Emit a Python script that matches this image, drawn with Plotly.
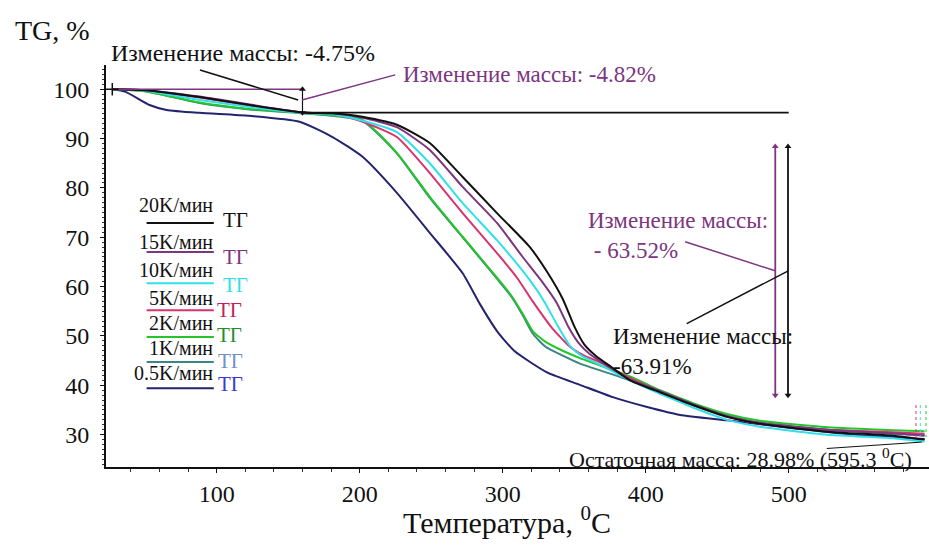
import plotly.graph_objects as go

# Heating-rate series: temperature (°C) and TG (%)
t_20 = [27, 50, 88, 123, 160, 181, 202, 226, 249, 272, 296, 319, 331, 342, 350, 357, 365, 376, 389, 410, 424, 433, 457, 480, 527, 573, 595]
tg_20 = [100, 99.8, 98.4, 96.8, 95.3, 95.1, 94.4, 92.8, 89.1, 82.2, 74.9, 68.0, 63.0, 57.5, 52.0, 48.3, 46.0, 43.7, 41.0, 38.6, 37.0, 36.0, 33.6, 32.2, 30.6, 29.8, 29.0]

t_15 = [27, 50, 88, 123, 160, 181, 202, 226, 249, 272, 296, 314, 327, 338, 346, 353, 361, 373, 389, 410, 424, 433, 457, 480, 527, 573, 595]
tg_15 = [100, 99.8, 98.5, 96.9, 95.3, 95.1, 94.2, 92.3, 87.7, 80.2, 72.9, 66.0, 61.2, 56.6, 51.8, 48.6, 46.3, 44.0, 41.2, 38.8, 37.2, 36.2, 33.8, 32.4, 31.0, 30.3, 29.8]

t_10 = [27, 50, 88, 123, 160, 181, 202, 226, 249, 272, 296, 319, 329, 338, 347, 355, 365, 389, 410, 424, 433, 457, 480, 527, 573, 595]
tg_10 = [100, 99.7, 97.8, 96.4, 95.2, 94.9, 93.6, 91.3, 85.0, 76.9, 69.4, 61.3, 57.0, 52.3, 48.0, 46.0, 44.6, 41.0, 38.3, 36.6, 35.5, 33.0, 31.6, 30.0, 29.3, 28.6]

t_5 = [27, 50, 88, 123, 160, 181, 202, 226, 249, 272, 296, 310, 321, 334, 347, 357, 367, 389, 410, 424, 433, 457, 480, 527, 573, 595]
tg_5 = [100, 99.8, 98.3, 96.7, 95.3, 95.0, 93.4, 90.3, 83.0, 74.9, 66.8, 61.8, 57.0, 51.8, 47.8, 46.0, 44.8, 41.5, 38.8, 37.2, 36.0, 33.6, 32.2, 31.0, 30.5, 30.2]

t_2 = [27, 50, 88, 123, 160, 181, 202, 226, 249, 272, 296, 306, 314, 321, 330, 342, 354, 389, 410, 424, 433, 457, 480, 527, 573, 595]
tg_2 = [100, 99.6, 97.3, 96.0, 95.2, 94.7, 93.8, 87.1, 78.2, 70.1, 61.8, 58.2, 54.5, 51.0, 48.8, 47.0, 45.5, 41.8, 39.0, 37.4, 36.4, 34.2, 32.8, 31.5, 30.9, 30.7]

t_1 = [27, 50, 88, 123, 160, 181, 202, 226, 249, 272, 296, 306, 314, 321, 330, 342, 354, 389, 410, 424, 433, 457, 480, 527, 573, 595]
tg_1 = [100, 99.6, 97.2, 95.9, 95.1, 94.6, 93.6, 87.0, 78.0, 70.0, 61.6, 58.0, 54.2, 50.5, 47.8, 46.0, 44.4, 41.0, 38.4, 36.9, 36.0, 33.8, 32.4, 31.0, 30.2, 29.9]

t_05 = [27, 36, 53, 65, 88, 123, 158, 181, 202, 226, 249, 272, 284, 296, 308, 331, 354, 377, 401, 424, 457, 503, 550, 585, 595]
tg_05 = [100, 99.5, 96.8, 95.8, 95.2, 94.6, 93.4, 90.3, 86.3, 79.0, 70.9, 62.7, 56.5, 51.0, 47.0, 42.6, 40.1, 37.6, 35.6, 34.0, 32.9, 31.3, 29.9, 29.3, 29.1]

rate_labels = ["20K/мин", "15K/мин", "10K/мин", "5K/мин", "2K/мин", "1K/мин", "0.5K/мин"]
rate_colors = ["#111111", "#7d3580", "#2fe0ea", "#d8336e", "#25c42a", "#3c8585", "#24246e"]
tg_label_colors = ["#111111", "#7d3580", "#2fe0ea", "#c81e55", "#1f8f2a", "#6f93c6", "#3a3ad0"]
series_t = [t_20, t_15, t_10, t_5, t_2, t_1, t_05]
series_tg = [tg_20, tg_15, tg_10, tg_5, tg_2, tg_1, tg_05]

# Mass-change annotations
first_step = [4.75, 4.82]
main_step = [63.52, 63.91]
residual_mass = 28.98
residual_temp = 595.3
step_temp = 160
step_end = 500

FONT = "Liberation Serif"
PURPLE = "#7d3580"
INK = "#111111"

fig = go.Figure()

# TG curves
for t, tg, col in reversed(list(zip(series_t, series_tg, rate_colors))):
    fig.add_trace(go.Scatter(x=t, y=tg, mode="lines",
                             line=dict(color=col, width=2, shape="spline", smoothing=0.55),
                             hoverinfo="skip"))

# Reference lines for the first mass-loss step
fig.add_trace(go.Scatter(x=[27, step_temp], y=[100, 100], mode="lines",
                         line=dict(color=PURPLE, width=1.5), hoverinfo="skip"))
fig.add_trace(go.Scatter(x=[step_temp, step_end], y=[100 - first_step[0]] * 2, mode="lines",
                         line=dict(color=INK, width=1.8), hoverinfo="skip"))
fig.add_trace(go.Scatter(x=[step_temp, step_temp], y=[100, 100 - first_step[0]], mode="lines+markers",
                         line=dict(color=INK, width=1.2),
                         marker=dict(symbol=["triangle-up", "triangle-down"], size=6, color=INK),
                         hoverinfo="skip"))
fig.add_trace(go.Scatter(x=[27], y=[100], mode="markers",
                         marker=dict(symbol="cross-thin", size=9, line=dict(color=INK, width=1.5)),
                         hoverinfo="skip"))

# Vertical double arrows for the main step
for xv, col in [(490.6, PURPLE), (499.5, INK)]:
    fig.add_trace(go.Scatter(x=[xv, xv], y=[88.4, 38.0], mode="lines+markers",
                             line=dict(color=col, width=1.8),
                             marker=dict(symbol=["triangle-up", "triangle-down"], size=6, color=col),
                             hoverinfo="skip"))

# End-of-run markers
for xv, col in [(589, "#d8336e"), (592, "#2fe0ea"), (596, "#25c42a")]:
    fig.add_trace(go.Scatter(x=[xv, xv], y=[36, 29.5], mode="lines",
                             line=dict(color=col, width=1, dash="dot"), hoverinfo="skip"))

shapes = []
def seg(x0, y0, x1, y1, col, w=1.5):
    shapes.append(dict(type="line", xref="x", yref="y", x0=x0, y0=y0, x1=x1, y1=y1,
                       line=dict(color=col, width=w)))

# Leader lines
seg(88.3, 103.9, 157, 97.8, INK)
seg(224.8, 102.9, 159.6, 97.8, PURPLE)
seg(427.6, 69.1, 490.5, 63.2, PURPLE)
seg(428.7, 52.5, 499.7, 63.2, INK)
seg(526.6, 27.2, 593, 28.5, INK, 1)

annotations = []
def txt(x, y, s, col=INK, size=23, xanchor="left", align="left", ref="data"):
    xr, yr = ("x", "y") if ref == "data" else ("paper", "paper")
    annotations.append(dict(x=x, y=y, xref=xr, yref=yr, text=s, showarrow=False,
                            xanchor=xanchor, yanchor="middle", align=align,
                            font=dict(family=FONT, size=size, color=col)))

txt(0.004, 1.030, f"Изменение массы: -{first_step[0]:.2f}%", size=24, ref="paper")
txt(229.0, 102.9, f"Изменение массы: -{first_step[1]:.2f}%", PURPLE)
txt(358, 70.4, f"Изменение массы:<br> - {main_step[0]:.2f}%", PURPLE)
txt(376, 46.8, f"Изменение массы:<br>-{main_step[1]:.2f}%")
txt(345.0, 25.3, f"Остаточная масса: {residual_mass:.2f}% ({residual_temp} <sup>0</sup>C)", size=22)
txt(-0.0656, 1.087, "TG, %", size=28, xanchor="center", ref="paper")
txt(0.487, -0.131, "Температура, <sup>0</sup>C", size=30, xanchor="center", ref="paper")

# In-plot key
key_text_y = [76.6, 69.0, 63.3, 57.6, 52.6, 47.5, 42.4]
key_line_y = [72.9, 67.0, 60.7, 55.2, 49.8, 44.7, 39.4]
key_tg_pos = [(113, 73.5), (113, 66.0), (113.5, 60.3), (109, 55.2), (109, 50.2), (110, 45.0), (110, 40.2)]
for lab, col, tcol, ty, ly, (gx, gy) in zip(rate_labels, rate_colors, tg_label_colors,
                                            key_text_y, key_line_y, key_tg_pos):
    txt(99, ty, lab, size=20, xanchor="right", align="right")
    seg(51, ly, 98, ly, col, 2)
    txt(gx, gy, "ТГ", tcol, size=21, xanchor="center", align="center")

fig.update_layout(
    width=929, height=547,
    margin=dict(l=106, r=0, t=65, b=80),
    paper_bgcolor="white", plot_bgcolor="white",
    showlegend=False,
    font=dict(family=FONT, color=INK),
    shapes=shapes, annotations=annotations,
)
fig.update_xaxes(range=[22.6, 598.1], showgrid=False, zeroline=False,
                 showline=True, linecolor=INK, linewidth=2,
                 tickmode="array", tickvals=[100, 200, 300, 400, 500],
                 ticks="outside", ticklen=4, tickcolor=INK,
                 minor=dict(dtick=20, tick0=0, ticks="outside", ticklen=3, tickcolor="#333333"),
                 tickfont=dict(family=FONT, size=24, color=INK))
fig.update_yaxes(range=[23.45, 104.9], showgrid=False, zeroline=False,
                 showline=True, linecolor=INK, linewidth=2,
                 tickmode="array", tickvals=[30, 40, 50, 60, 70, 80, 90, 100],
                 ticks="outside", ticklen=4, tickcolor=INK,
                 minor=dict(dtick=1, tick0=0, ticks="outside", ticklen=2.5, tickcolor="#333333"),
                 ticklabelstandoff=6,
                 tickfont=dict(family=FONT, size=24, color=INK))

fig.write_html("out.html")
